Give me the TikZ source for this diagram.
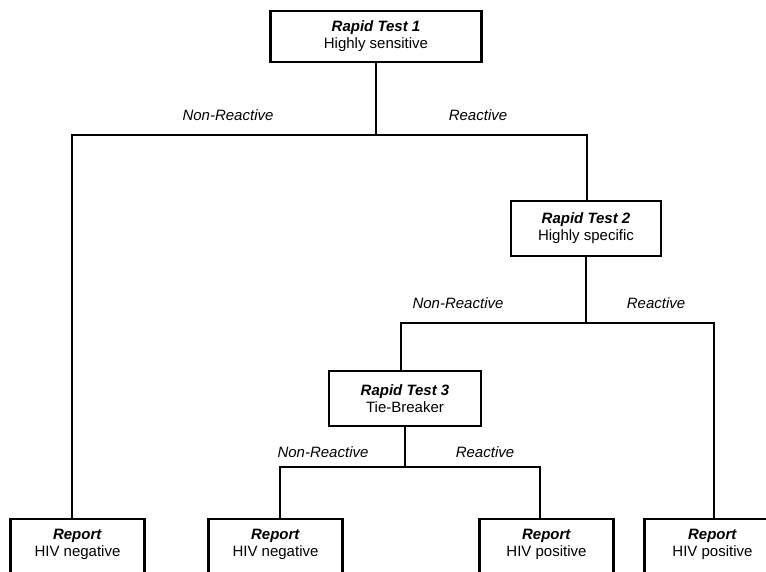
\documentclass[tikz,border=0pt]{standalone}
\usepackage{fontspec}
\setmainfont{Liberation Sans}
\begin{document}
\begin{tikzpicture}[x=0.75pt,y=-0.75pt,
  box/.style={draw=black,line width=2.1pt,fill=white,align=center,inner sep=0pt,
    font=\fontsize{11.25}{12.9}\selectfont},
  rep/.style={align=center,inner sep=0pt,minimum width=99.75pt,minimum height=38.25pt,
    anchor=north,font=\fontsize{11.25}{12.9}\selectfont},
  conn/.style={draw=black,line width=2.1pt},
  lbl/.style={font=\fontsize{11.25}{12.9}\selectfont\itshape,inner sep=0pt}]
\clip (0,0) rectangle (766,571);
\fill[white] (0,0) rectangle (766,571);
% decision boxes
\node[box,minimum width=158.25pt,minimum height=38.25pt] (t1) at (376,36.5) {\textbf{\textit{Rapid Test 1}}\\Highly sensitive};
\node[box,minimum width=112.5pt,minimum height=41.25pt] (t2) at (586,228.5) {\textbf{\textit{Rapid Test 2}}\\Highly specific};
\node[box,minimum width=114pt,minimum height=41.25pt] (t3) at (405,398.5) {\textbf{\textit{Rapid Test 3}}\\Tie-Breaker};
% report boxes (cut off at the bottom edge)
\node[rep] (r1) at (77.5,519) {\textbf{\textit{Report}}\\HIV negative};
\node[rep] (r2) at (275.5,519) {\textbf{\textit{Report}}\\HIV negative};
\node[rep] (r3) at (546.5,519) {\textbf{\textit{Report}}\\HIV positive};
\node[rep,minimum width=101.25pt] (r4) at (712.5,519) {\textbf{\textit{Report}}\\HIV positive};
\foreach \r in {r1,r2,r3,r4}{
  \draw[conn] ([yshift=-12pt]\r.south west) -- (\r.north west) -- (\r.north east) -- ([yshift=-12pt]\r.south east);
}
% junction coordinates
\coordinate (j1L) at (72,135);
\coordinate (j1R) at (587,135);
\coordinate (j2L) at (401,323);
\coordinate (j2R) at (714,323);
\coordinate (j3L) at (280,467);
\coordinate (j3R) at (540,467);
% connectors
\draw[conn] (t1.south) -- (t1.south |- j1L);
\draw[conn] (r1.north -| j1L) -- (j1L) -- (j1R) -- (j1R |- t2.north);
\draw[conn] (t2.south) -- (t2.south |- j2L);
\draw[conn] (t3.north -| j2L) -- (j2L) -- (j2R) -- (r4.north -| j2R);
\draw[conn] (t3.south) -- (t3.south |- j3L);
\draw[conn] (r2.north -| j3L) -- (j3L) -- (j3R) -- (r3.north -| j3R);
% labels
\node[lbl] (l1) at (228,115) {Non-Reactive};
\node[lbl] (l2) at (478,115) {Reactive};
\node[lbl] (l3) at (458,303) {Non-Reactive};
\node[lbl] (l4) at (656,303) {Reactive};
\node[lbl] (l5) at (323,452) {Non-Reactive};
\node[lbl] (l6) at (485,452) {Reactive};
\end{tikzpicture}
\end{document}
